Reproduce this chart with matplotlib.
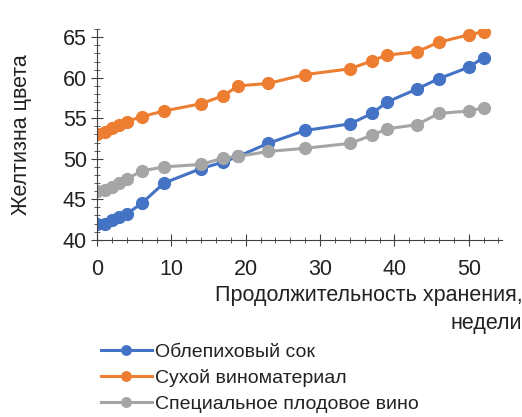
import matplotlib.pyplot as plt
from matplotlib.ticker import MultipleLocator

plt.rcParams['font.family'] = ['Liberation Sans', 'DejaVu Sans']

weeks = [0, 1, 2, 3, 4, 6, 9, 14, 17, 19, 23, 28, 34, 37, 39, 43, 46, 50, 52]
sea_buckthorn = [42.0, 42.0, 42.4, 42.8, 43.2, 44.5, 47.0, 48.8, 49.6, 50.3, 51.9, 53.5,
                 54.3, 55.6, 57.0, 58.6, 59.9, 61.3, 62.5]
dry_wine = [53.0, 53.3, 53.8, 54.2, 54.6, 55.2, 55.9, 56.8, 57.8, 59.0, 59.3, 60.4,
            61.1, 62.1, 62.8, 63.2, 64.4, 65.3, 65.7]
fruit_wine = [46.0, 46.1, 46.5, 47.0, 47.5, 48.5, 49.0, 49.3, 50.1, 50.3, 50.9, 51.3,
              51.9, 52.9, 53.7, 54.2, 55.6, 55.9, 56.3]
labels = ["Облепиховый сок", "Сухой виноматериал", "Специальное плодовое вино"]
colors = ["#4472C4", "#ED7D31", "#A5A5A5"]

fig = plt.figure(figsize=(5.22, 4.17), dpi=100)
ax = fig.add_axes([0.186, 0.425, 0.776, 0.505])

for ys, lab, c in zip([sea_buckthorn, dry_wine, fruit_wine], labels, colors):
    ax.plot(weeks, ys, '-o', color=c, lw=2.2, markersize=8.5, label=lab)

ax.set_xlim(0, 54.5)
ax.set_ylim(40, 66)
ax.xaxis.set_major_locator(MultipleLocator(10))
ax.xaxis.set_minor_locator(MultipleLocator(2))
ax.yaxis.set_major_locator(MultipleLocator(5))
ax.yaxis.set_minor_locator(MultipleLocator(1))
for s in ['top', 'right']:
    ax.spines[s].set_visible(False)
for s in ['left', 'bottom']:
    ax.spines[s].set_color('#404040')
ax.tick_params(which='major', direction='inout', length=8, color='#404040',
               labelsize=15.5, labelcolor='#222222')
ax.tick_params(axis='x', which='major', pad=10)
ax.tick_params(which='minor', direction='inout', length=4, color='#404040')

ax.set_ylabel("Желтизна цвета", fontsize=15.5, color='#222222', labelpad=22)
ax.set_xlabel("Продолжительность хранения,\nнедели", fontsize=15.5, ha='right',
              multialignment='right', color='#222222', linespacing=1.45)
ax.xaxis.set_label_coords(1.05, -0.215, transform=ax.transAxes)
ax.xaxis.label.set_verticalalignment('top')

leg = fig.legend(loc='upper left', bbox_to_anchor=(0.175, 0.2), bbox_transform=fig.transFigure,
                 frameon=False, fontsize=14, handlelength=2.6, handletextpad=0.15,
                 labelspacing=0.42, borderpad=0, markerscale=0.8)
for t in leg.get_texts():
    t.set_color('#222222')

fig.savefig("out.png", dpi=100)
